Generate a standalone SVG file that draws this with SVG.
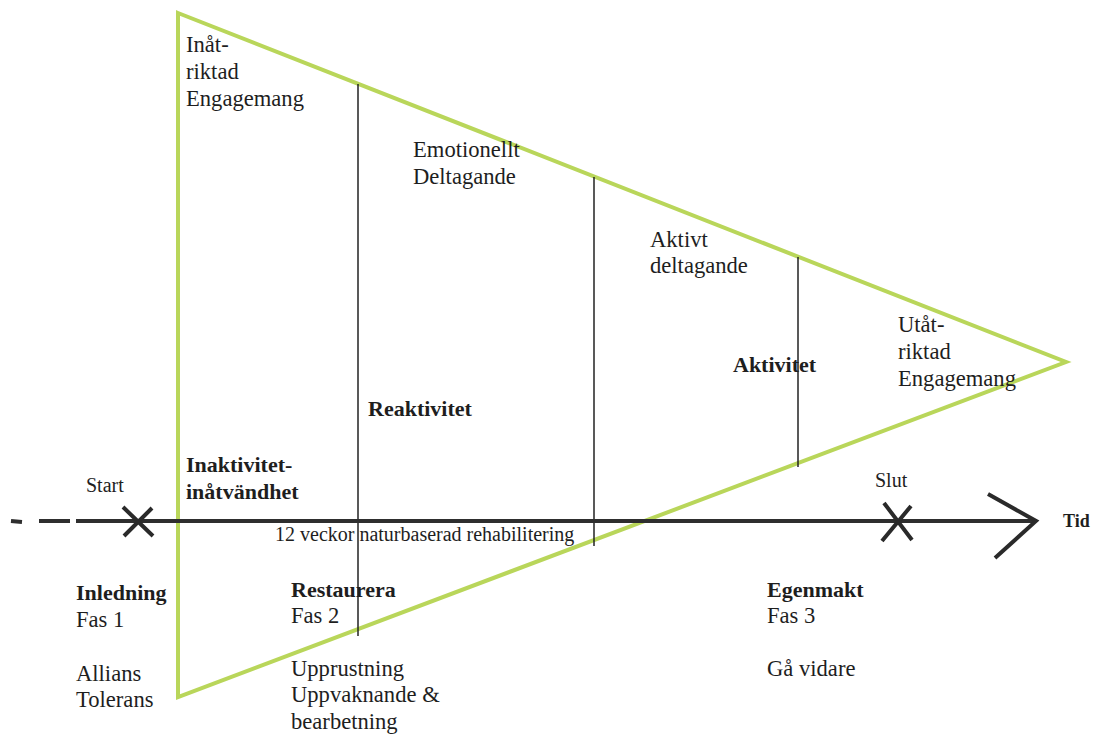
<svg xmlns="http://www.w3.org/2000/svg" width="1096" height="734" viewBox="0 0 1096 734">
  <style>
    text { font-family: "Liberation Serif", Tinos, "Times New Roman", "DejaVu Serif", serif; font-weight: normal; fill: #1e1e1e; font-size: 22.6px; }
    .b { font-weight: bold; font-size: 22px; }
    .sm { font-size: 20px; }
    .tid { font-size: 18px; font-weight: bold; }
    .tri { fill: none; stroke: #b9d65a; stroke-width: 4; stroke-linejoin: miter; }
    .div { stroke: #222; stroke-width: 1.5; }
    .axis { stroke: #2e2e2e; stroke-width: 4; fill: none; }
    .mark { stroke: #2a2a2a; stroke-width: 4; stroke-linecap: butt; fill: none; }
  </style>
  <rect width="1096" height="734" fill="#ffffff"/>

  <!-- engagement triangle -->
  <g id="triangle">
    <polygon class="tri" points="178,13 1066,362 178,697"/>
  </g>

  <!-- connectors: stage dividers, time axis, markers -->
  <g id="connectors">
    <line class="div" x1="358" y1="84" x2="358" y2="636"/>
    <line class="div" x1="594" y1="177" x2="594" y2="546"/>
    <line class="div" x1="798" y1="257" x2="798" y2="467"/>
    <line class="axis" x1="11" y1="521" x2="22" y2="522"/>
    <line class="axis" x1="39" y1="521" x2="70" y2="521"/>
    <line class="axis" x1="76" y1="521" x2="1036" y2="521"/>
    <path class="mark" d="M123,507 L153,536 M152,508 L124,536"/>
    <path class="mark" d="M884,503 L912,540 M911,506 L882,541"/>
    <path class="mark" d="M988,494 L1036,521 L995,558"/>
  </g>

  <g id="inatriktad">
    <text x="186" y="52">Inåt-</text>
    <text x="186" y="79">riktad</text>
    <text x="186" y="106">Engagemang</text>
  </g>
  <g id="emotionellt">
    <text x="413" y="157">Emotionellt</text>
    <text x="413" y="184">Deltagande</text>
  </g>
  <g id="aktivt">
    <text x="650" y="247">Aktivt</text>
    <text x="650" y="273">deltagande</text>
  </g>
  <g id="utatriktad">
    <text x="898" y="332">Utåt-</text>
    <text x="898" y="359">riktad</text>
    <text x="898" y="386">Engagemang</text>
  </g>
  <g id="aktivitet">
    <text class="b" x="733" y="372">Aktivitet</text>
  </g>
  <g id="reaktivitet">
    <text class="b" x="368" y="416">Reaktivitet</text>
  </g>
  <g id="inaktivitet">
    <text class="b" x="186" y="472">Inaktivitet-</text>
    <text class="b" x="186" y="499">inåtvändhet</text>
  </g>
  <g id="start">
    <text class="sm" x="86" y="492">Start</text>
  </g>
  <g id="slut">
    <text class="sm" x="875" y="487">Slut</text>
  </g>
  <g id="tid">
    <text class="tid" x="1063" y="527">Tid</text>
  </g>
  <g id="period">
    <text class="sm" x="275" y="541">12 veckor naturbaserad rehabilitering</text>
  </g>
  <g id="fas1">
    <text class="b" x="76" y="600">Inledning</text>
    <text x="76" y="627">Fas 1</text>
    <text x="76" y="681">Allians</text>
    <text x="76" y="707">Tolerans</text>
  </g>
  <g id="fas2">
    <text class="b" x="291" y="597">Restaurera</text>
    <text x="291" y="623">Fas 2</text>
    <text x="291" y="676">Upprustning</text>
    <text x="291" y="702">Uppvaknande &amp;</text>
    <text x="291" y="729">bearbetning</text>
  </g>
  <g id="fas3">
    <text class="b" x="767" y="597">Egenmakt</text>
    <text x="767" y="623">Fas 3</text>
    <text x="767" y="676">Gå vidare</text>
  </g>
</svg>
